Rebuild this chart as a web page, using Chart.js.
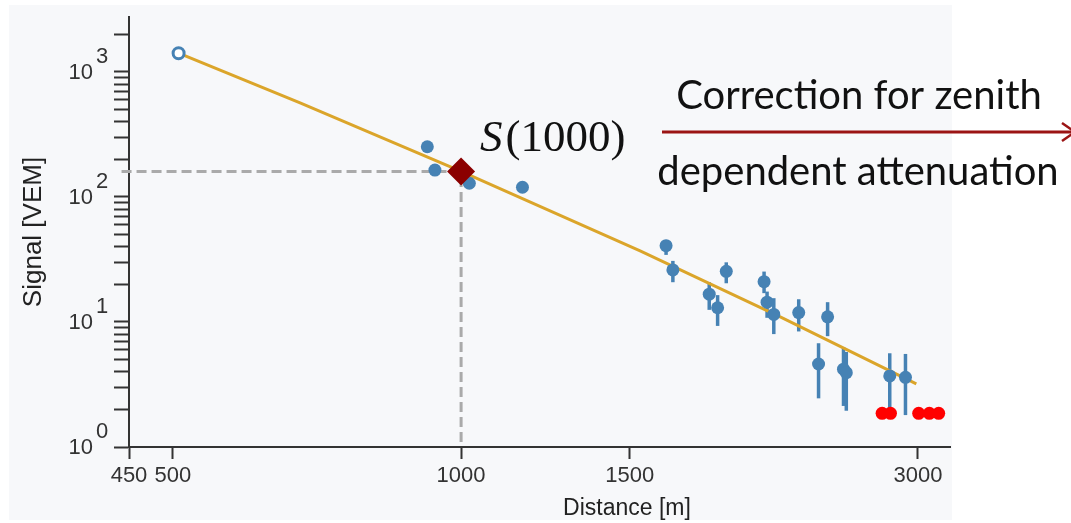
<!DOCTYPE html>
<html>
<head>
<meta charset="utf-8">
<title>Lateral distribution</title>
<script src="https://cdn.jsdelivr.net/npm/chart.js@4.4.1/dist/chart.umd.min.js"></script>
<style>
  html, body { margin: 0; padding: 0; background: #fff; }
  #wrap { width: 1071px; height: 523px; }
</style>
</head>
<body>
<div id="wrap"><canvas id="ldfChart" width="1071" height="523"></canvas></div>
<script>
// triggered stations: distance to axis [m], signal [VEM], error band
const stationDist = [922, 939, 1020, 1159, 1637, 1664, 1816, 1853, 1892, 2072, 2087, 2121, 2252, 2414, 2362, 2508, 2525, 2803, 2911];
const stationSignal = [252, 164, 128.7, 119.6, 40.8, 26.1, 16.7, 13.0, 25.4, 21.0, 14.4, 11.5, 11.9, 11.0, 4.61, 4.19, 3.93, 3.70, 3.61];
const signalLow = [null, null, null, null, 34.4, 20.8, 12.5, 9.3, 20.4, 17.0, 10.8, 8.0, 8.4, 7.7, 2.45, 2.13, 1.95, 1.87, 1.80];
const signalHigh = [null, null, null, null, 45.3, 30.8, 20.8, 16.4, 30.0, 25.3, 17.5, 15.5, 15.2, 14.4, 6.76, 6.28, 5.75, 5.62, 5.55];

// saturated station
const saturatedDist = [507];
const saturatedSignal = [1412];

// silent stations, drawn at the bottom
const silentDist = [2752, 2808, 3005, 3083, 3153];
const silentSignal = [1.86, 1.86, 1.86, 1.86, 1.86];

// fitted lateral distribution function
const ldfDist = [507, 679, 1000, 1538, 2154, 2988];
const ldfSignal = [1412, 565, 160, 37.0, 11.0, 3.2];

// S(1000) reference point
const refDist = [1000];
const refSignal = [160];

// axis ticks
const xTickValues = [450, 500, 1000, 1500, 3000];
const yMajorValues = [1, 10, 100, 1000];
const yMinorValues = [2, 3, 4, 5, 6, 7, 8, 9, 20, 30, 40, 50, 60, 70, 80, 90,
  200, 300, 400, 500, 600, 700, 800, 900, 2000];

const BLUE = "#4682b4";
const AXIS = "#333333";
const PANEL = "#f7f8fa";
const SANS = "'Liberation Sans', Arial, sans-serif";

const pts = (xs, ys) => xs.map((x, i) => ({ x, y: ys[i] }));

const panelBg = {
  id: "panelBg",
  beforeDraw(chart) {
    const ctx = chart.ctx;
    ctx.save();
    ctx.fillStyle = "#fff";
    ctx.fillRect(0, 0, chart.width, chart.height);
    ctx.fillStyle = PANEL;
    ctx.fillRect(9, 5, 943, 515);
    ctx.restore();
  },
};

const errorBars = {
  id: "errorBars",
  beforeDatasetsDraw(chart) {
    const { ctx, scales: { x, y } } = chart;
    ctx.save();
    ctx.strokeStyle = BLUE;
    ctx.lineWidth = 3.5;
    stationDist.forEach((d, i) => {
      if (signalLow[i] == null) return;
      const px = x.getPixelForValue(d);
      ctx.beginPath();
      ctx.moveTo(px, y.getPixelForValue(signalLow[i]));
      ctx.lineTo(px, y.getPixelForValue(signalHigh[i]));
      ctx.stroke();
    });
    ctx.restore();
  },
};

const annotations = {
  id: "annotations",
  afterDraw(chart) {
    const { ctx, scales: { y } } = chart;
    ctx.save();

    // y labels as powers of ten
    ctx.fillStyle = AXIS;
    ctx.font = "22px " + SANS;
    ctx.textBaseline = "middle";
    yMajorValues.forEach((v) => {
      const py = y.getPixelForValue(v);
      ctx.textAlign = "right";
      ctx.fillText("10", 93, py + 1);
      ctx.textAlign = "left";
      ctx.fillText(String(Math.round(Math.log10(v))), 96, py - 15);
    });

    // axis titles
    ctx.fillStyle = "#222";
    ctx.font = "23px " + SANS;
    ctx.textAlign = "center";
    ctx.textBaseline = "alphabetic";
    ctx.fillText("Distance [m]", 627, 515);
    ctx.save();
    ctx.font = "26px " + SANS;
    ctx.translate(41, y.top + (y.bottom - y.top) / 2);
    ctx.rotate(-Math.PI / 2);
    ctx.fillText("Signal [VEM]", 0, 0);
    ctx.restore();

    // S(1000) label
    ctx.fillStyle = "#111";
    ctx.textAlign = "left";
    ctx.font = "italic 45px 'Liberation Serif', serif";
    ctx.fillText("S", 480, 151);
    const sw = ctx.measureText("S").width;
    ctx.font = "45px 'Liberation Serif', serif";
    ctx.fillText("(1000)", 480 + sw + 3, 151);

    // correction arrow
    ctx.strokeStyle = "#9b1414";
    ctx.lineWidth = 3;
    ctx.beginPath();
    ctx.moveTo(662, 132);
    ctx.lineTo(1074, 132);
    ctx.stroke();
    ctx.lineWidth = 2.5;
    ctx.beginPath();
    ctx.moveTo(1062, 123);
    ctx.lineTo(1075, 132);
    ctx.lineTo(1062, 141);
    ctx.stroke();

    ctx.fillStyle = "#111";
    ctx.textAlign = "center";
    ctx.font = "40px Lato, sans-serif";
    ctx.fillText("Correction for zenith", 859, 109);
    ctx.fillText("dependent attenuation", 858, 185);

    ctx.restore();
  },
};

new Chart(document.getElementById("ldfChart"), {
  type: "line",
  data: {
    datasets: [
      {
        data: pts(refDist, refSignal),
        showLine: false,
        pointStyle: "rectRot",
        pointRadius: 14,
        pointBackgroundColor: "#8b0000",
        pointBorderWidth: 0,
        order: 0,
      },
      {
        data: pts(stationDist, stationSignal),
        showLine: false,
        pointRadius: 6.5,
        pointBackgroundColor: BLUE,
        pointBorderWidth: 0,
        order: 1,
      },
      {
        data: pts(saturatedDist, saturatedSignal),
        showLine: false,
        pointRadius: 5.5,
        pointBackgroundColor: "#fff",
        pointBorderColor: BLUE,
        pointBorderWidth: 3,
        order: 1,
      },
      {
        data: pts(silentDist, silentSignal),
        showLine: false,
        pointRadius: 6.5,
        pointBackgroundColor: "#ff0000",
        pointBorderWidth: 0,
        order: 1,
      },
      {
        data: pts(ldfDist, ldfSignal),
        borderColor: "#dba52a",
        borderWidth: 3,
        pointRadius: 0,
        tension: 0,
        order: 3,
      },
      {
        data: [
          { x: 442, y: refSignal[0] },
          { x: refDist[0], y: refSignal[0] },
          { x: refDist[0], y: 1 },
        ],
        borderColor: "#aaaaaa",
        borderWidth: 3,
        borderDash: [10, 5],
        pointRadius: 0,
        tension: 0,
        clip: false,
        order: 4,
      },
    ],
  },
  options: {
    responsive: false,
    animation: false,
    events: [],
    layout: { padding: { left: 0, top: 17, right: 121, bottom: 0 } },
    plugins: { legend: { display: false }, tooltip: { enabled: false } },
    scales: {
      x: {
        type: "logarithmic",
        min: 450,
        max: 3240,
        afterBuildTicks: (scale) => {
          scale.ticks = xTickValues.map((v) => ({ value: v }));
        },
        afterFit: (scale) => {
          scale.height = 76;
        },
        border: { display: true, color: AXIS, width: 2 },
        grid: {
          drawOnChartArea: false,
          drawTicks: true,
          tickLength: 12,
          tickWidth: 2,
          tickColor: AXIS,
        },
        ticks: {
          autoSkip: false,
          maxRotation: 0,
          padding: 4,
          color: AXIS,
          font: { family: SANS, size: 22 },
          callback: (v) => String(v),
        },
      },
      y: {
        type: "logarithmic",
        min: 1,
        max: 2750,
        afterBuildTicks: (scale) => {
          scale.ticks = yMajorValues
            .concat(yMinorValues)
            .sort((a, b) => a - b)
            .map((v) => ({ value: v, major: yMajorValues.includes(v) }));
        },
        afterFit: (scale) => {
          scale.width = 129;
        },
        border: { display: true, color: AXIS, width: 2 },
        grid: {
          drawOnChartArea: false,
          drawTicks: true,
          tickLength: 15,
          tickWidth: 2,
          tickColor: AXIS,
        },
        ticks: {
          autoSkip: false,
          padding: 0,
          callback: () => "",
        },
      },
    },
  },
  plugins: [panelBg, errorBars, annotations],
});
</script>
</body>
</html>
